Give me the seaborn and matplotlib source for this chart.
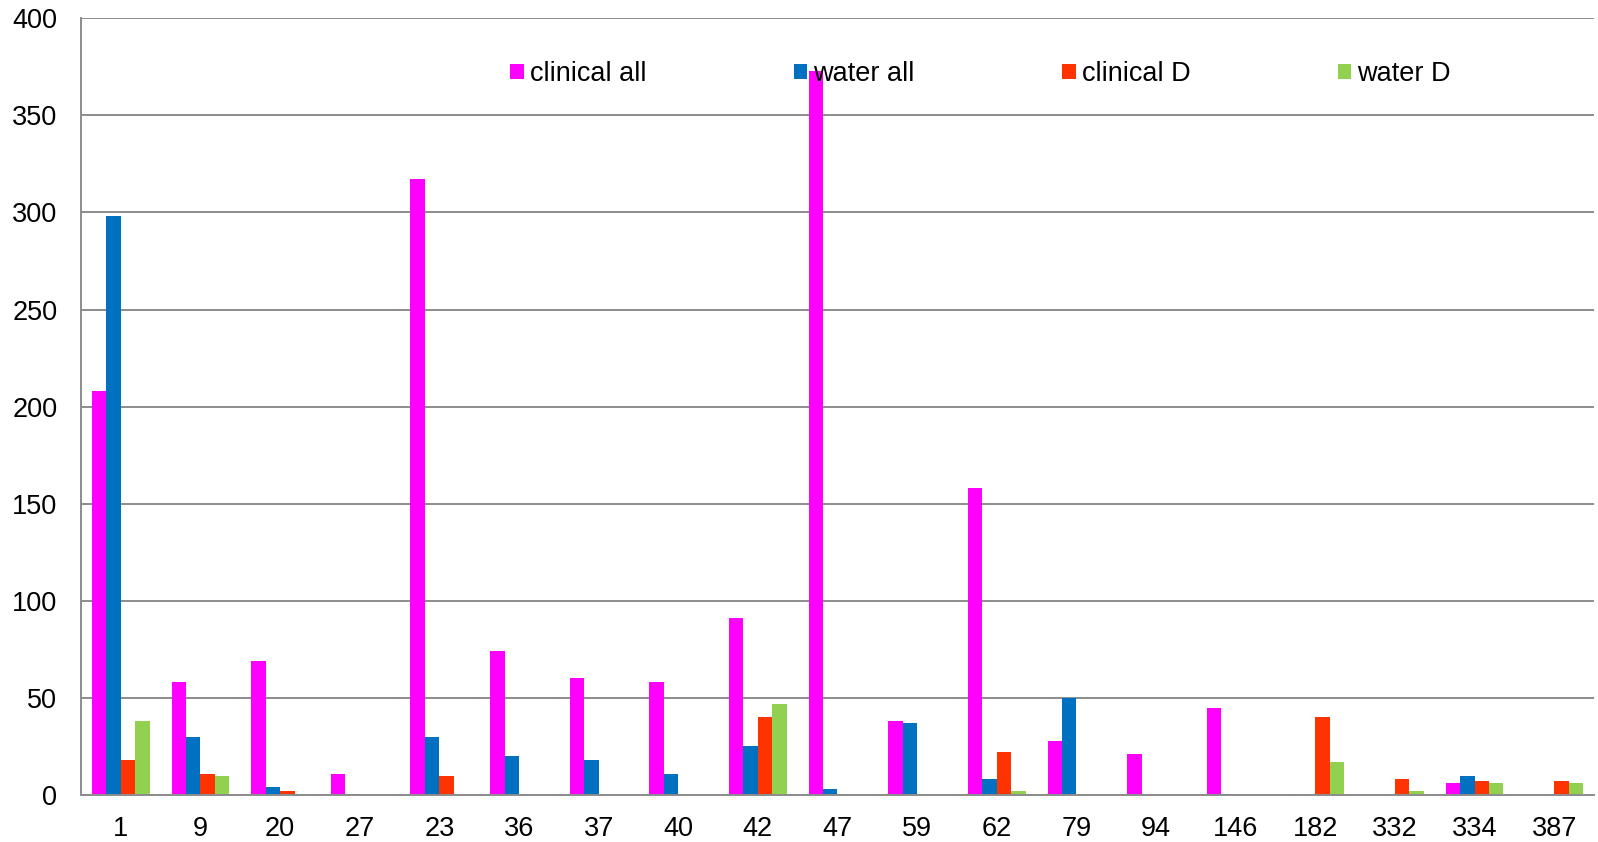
import matplotlib
matplotlib.use("Agg")
import matplotlib.pyplot as plt
from matplotlib.ticker import MultipleLocator, FixedLocator
import pandas as pd
import seaborn as sns

# Allele categories along the x axis (in display order)
alleles = ["1", "9", "20", "27", "23", "36", "37", "40", "42", "47",
           "59", "62", "79", "94", "146", "182", "332", "334", "387"]

# Counts per series
clinical_all = [208, 58, 69, 11, 317, 74, 60, 58, 91, 373,
                38, 158, 28, 21, 45, 0.7, 0, 6, 0]
water_all = [298, 30, 4, 0.7, 30, 20, 18, 11, 25, 3,
             37, 8, 50, 0, 0.7, 0, 0, 10, 0]
clinical_d = [18, 11, 2, 0, 10, 0.5, 0, 0, 40, 0.7,
              0, 22, 0, 0, 0, 40, 8, 7, 7]
water_d = [38, 10, 0.5, 0, 0.5, 0.5, 0, 0, 47, 0,
           0, 2, 0, 0, 0, 17, 2, 6, 6]

series_names = ["clinical all", "water all", "clinical D", "water D"]
series_values = [clinical_all, water_all, clinical_d, water_d]
series_colors = ["#FF00FF", "#0070C0", "#FF3300", "#92D050"]

rows = []
for name, vals in zip(series_names, series_values):
    for a, v in zip(alleles, vals):
        rows.append({"allele": a, "count": v, "series": name})
df = pd.DataFrame(rows)

sns.set_style("white")
plt.rcParams["font.family"] = ["Liberation Sans", "DejaVu Sans"]
plt.rcParams["text.color"] = "black"

FS = 19.5

fig = plt.figure(figsize=(15.98, 8.42), dpi=100)
ax = fig.add_axes([81 / 1598, 47 / 842, 1513 / 1598, 776.7 / 842])

sns.barplot(data=df, x="allele", y="count", hue="series",
            order=alleles, hue_order=series_names,
            palette=dict(zip(series_names, series_colors)),
            width=0.725, gap=0, errorbar=None, saturation=1,
            linewidth=0, ax=ax)

grid_c = "#8C8C8C"
ax.set_ylim(0, 400)
ax.set_xlim(-0.5, len(alleles) - 0.5)
ax.yaxis.set_major_locator(MultipleLocator(50))
ax.yaxis.grid(True, color=grid_c, linewidth=1.4)
ax.set_axisbelow(True)
ax.set_xlabel("")
ax.set_ylabel("")

for side in ["top", "right"]:
    ax.spines[side].set_visible(False)
for side in ["left", "bottom"]:
    ax.spines[side].set_color(grid_c)
    ax.spines[side].set_linewidth(1.4)

# Tick marks sit between categories; labels at category centres
ax.xaxis.set_minor_locator(FixedLocator([i - 0.5 for i in range(len(alleles) + 1)]))
ax.tick_params(axis="x", which="major", length=0, pad=15, labelsize=FS, labelcolor="black")
ax.tick_params(axis="x", which="minor", length=6, width=1.4, color=grid_c, direction="out")
ax.tick_params(axis="y", which="major", length=6, width=1.4, color=grid_c, pad=11,
               labelsize=FS, labelcolor="black", direction="out")

handles, labels = ax.get_legend_handles_labels()
leg = ax.legend(handles, labels, ncol=4, frameon=False, fontsize=FS,
                loc="center left", bbox_to_anchor=(510 / 1598, 1 - 74 / 842),
                bbox_transform=fig.transFigure, borderpad=0, borderaxespad=0,
                handlelength=0.5, handleheight=0.5, handletextpad=0.22,
                columnspacing=5.45)
for t in leg.get_texts():
    t.set_color("black")

fig.savefig("out.png", dpi=100)
